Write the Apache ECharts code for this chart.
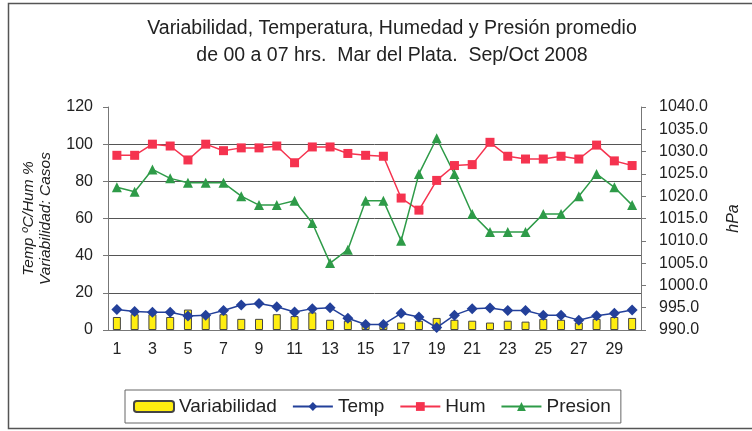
<!DOCTYPE html>
<html>
<head>
<meta charset="utf-8">
<script src="https://cdn.jsdelivr.net/npm/echarts@6/dist/echarts.min.js"></script>
<style>
  html, body { margin: 0; padding: 0; background: #fff; }
  #main { width: 752px; height: 431px; }
</style>
</head>
<body>
<div id="main"></div>
<script>
// dias del periodo
const dias = ['1','2','3','4','5','6','7','8','9','10','11','12','13','14','15','16','17','18','19','20','21','22','23','24','25','26','27','28','29','30'];
// casos de variabilidad
const variabilidad = [7, 8.5, 8.5, 7, 11, 8, 8.5, 6, 6, 8.5, 7.5, 9.5, 5.5, 5, 2.5, 2.5, 4, 5, 6.5, 5.5, 5, 4, 5, 4.5, 6, 5.5, 4, 6, 7, 6.5];
// temperatura ºC
const temp = [11, 10, 9.5, 9.5, 7.5, 8, 10.5, 13.5, 14.2, 12.5, 9.7, 11.5, 12, 6.3, 3, 3, 9, 7, 1.3, 8, 11.5, 11.8, 10.5, 10.5, 8, 8, 5.3, 7.7, 9, 10.8];
// humedad %
const hum = [94, 94, 100, 99, 91.5, 100, 96.5, 98, 98, 99, 90, 98.5, 98.5, 95, 94, 93.5, 71, 64.5, 80.5, 88.5, 89, 101, 93.5, 92, 92, 93.5, 92, 99.5, 91, 88.5];
// presion hPa
const presion = [1022, 1021, 1026, 1024, 1023, 1023, 1023, 1020, 1018, 1018, 1019, 1014, 1005, 1008, 1019, 1019, 1010, 1025, 1033, 1025, 1016, 1012, 1012, 1012, 1016, 1016, 1020, 1025, 1022, 1018];

const chart = echarts.init(document.getElementById('main'));
const fuente = 'Liberation Sans, Arial, sans-serif';

const option = {
  animation: false,
  textStyle: { fontFamily: fuente },
  title: {
    text: 'Variabilidad, Temperatura, Humedad y Presión promedio\nde 00 a 07 hrs.  Mar del Plata.  Sep/Oct 2008',
    left: 387,
    textAlign: 'center',
    top: 10,
    textStyle: { fontSize: 19.5, fontWeight: 'normal', color: '#222', lineHeight: 27, fontFamily: fuente }
  },
  graphic: [{
    type: 'rect',
    shape: { x: 8.5, y: 3.5, width: 760, height: 425 },
    style: { fill: 'none', stroke: '#555', lineWidth: 1.5 },
    silent: true
  }],
  grid: { left: 108, right: 111, top: 107, bottom: 101 },
  legend: {
    left: 125,
    top: 390,
    width: 497,
    height: 35,
    padding: [7, 10, 7, 8],
    borderColor: '#666',
    borderWidth: 1,
    itemGap: 15,
    itemWidth: 40,
    itemHeight: 11,
    textStyle: { fontSize: 19, color: '#222', fontFamily: fuente },
    data: ['Variabilidad', 'Temp', 'Hum', 'Presion']
  },
  xAxis: {
    type: 'category',
    data: dias,
    axisLine: { lineStyle: { color: '#777' } },
    axisTick: { interval: 0, length: 5, lineStyle: { color: '#777' } },
    axisLabel: { interval: 1, fontSize: 16, color: '#222', margin: 12 }
  },
  yAxis: [{
    type: 'value',
    min: 0,
    max: 120,
    interval: 20,
    name: 'Temp ºC/Hum %\nVariabilidad: Casos',
    nameLocation: 'middle',
    nameGap: 54,
    nameTextStyle: { fontSize: 15.5, fontStyle: 'italic', color: '#222', lineHeight: 17 },
    axisLine: { show: true, lineStyle: { color: '#777' } },
    axisTick: { show: true, length: 5, lineStyle: { color: '#777' } },
    axisLabel: { fontSize: 16, color: '#222', margin: 15 },
    splitLine: { showMaxLine: false, lineStyle: { color: '#555', width: 1 } }
  }, {
    type: 'value',
    min: 990,
    max: 1040,
    interval: 5,
    position: 'right',
    name: 'hPa',
    nameLocation: 'middle',
    nameGap: 85,
    nameTextStyle: { fontSize: 16, fontStyle: 'italic', color: '#222' },
    axisLine: { show: true, lineStyle: { color: '#777' } },
    axisTick: { show: true, length: 5, lineStyle: { color: '#777' } },
    axisLabel: { fontSize: 16, color: '#222', margin: 18, formatter: v => v.toFixed(1) },
    splitLine: { show: false }
  }],
  series: [{
    name: 'Variabilidad',
    type: 'bar',
    data: variabilidad,
    barWidth: 8,
    itemStyle: { color: '#FFEE10', borderColor: '#444', borderWidth: 1 }
  }, {
    name: 'Temp',
    type: 'line',
    data: temp,
    symbol: 'diamond',
    symbolSize: 11,
    lineStyle: { color: '#23409A', width: 1.5 },
    itemStyle: { color: '#23409A' }
  }, {
    name: 'Hum',
    type: 'line',
    data: hum,
    symbol: 'rect',
    symbolSize: 9,
    lineStyle: { color: '#F5334F', width: 1.5 },
    itemStyle: { color: '#F5334F' }
  }, {
    name: 'Presion',
    type: 'line',
    yAxisIndex: 1,
    data: presion,
    symbol: 'triangle',
    symbolSize: 10,
    lineStyle: { color: '#2E9B48', width: 1.5 },
    itemStyle: { color: '#2E9B48' }
  }]
};

chart.setOption(option);
</script>
</body>
</html>
